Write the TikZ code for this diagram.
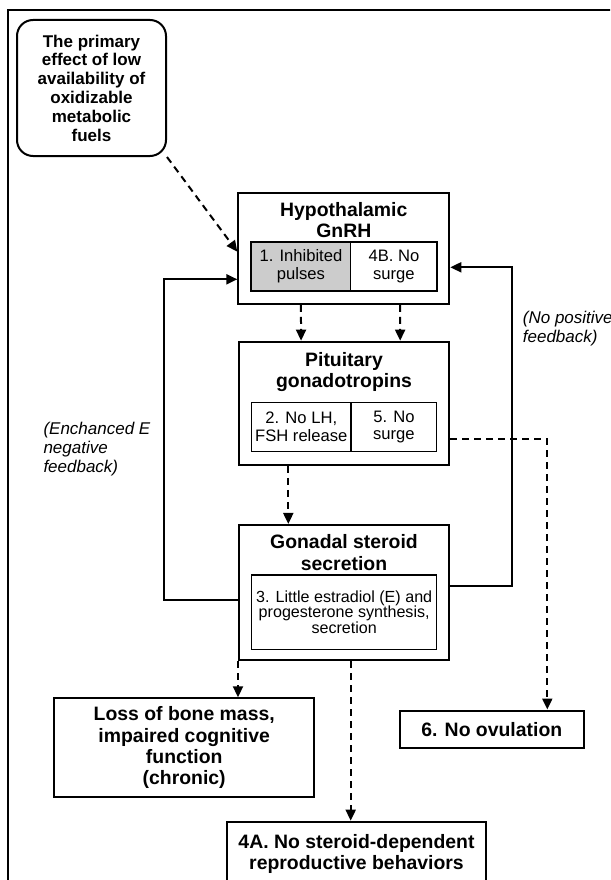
\documentclass[tikz,border=0pt]{standalone}
\usepackage{fontspec}
\setmainfont{Liberation Sans}
\usetikzlibrary{arrows.meta}

\begin{document}
\begin{tikzpicture}[x=1pt, y=-1pt,
		box/.style={draw, line width=2pt, inner sep=0pt},
		cell/.style={draw, line width=1.4pt, inner sep=0pt, align=center, font=\fontsize{16.6}{17.6}\selectfont},
		title/.style={align=center, font=\fontsize{19.4}{21.4}\selectfont\bfseries},
		note/.style={inner sep=0pt, anchor=west, align=left, font=\fontsize{17}{18.8}\selectfont\itshape},
		dasharrow/.style={->, >={Triangle[width=10pt,length=11pt]}, line width=2pt, dash pattern=on 7pt off 5pt},
		fbarrow/.style={->, >={Triangle[width=10pt,length=11pt]}, line width=2pt}]
		\useasboundingbox (0,0) rectangle (610,880);
		\clip (0,0) rectangle (610,880);
		\draw[line width=2pt] (8.3,10) rectangle (640,900);
		% boxes
		\draw (91.5,88) node[box, rounded corners=16pt, minimum width=149pt, minimum height=136pt, align=center, font=\fontsize{17}{18.8}\selectfont\bfseries] (F) {The primary\\effect of low\\availability of\\oxidizable\\metabolic\\fuels};
		\draw (343.8,248.3) node[box, minimum width=211pt, minimum height=111.3pt] (H) {};
		\draw (343.8,220) node[title] (HT) {Hypothalamic\\GnRH};
		\draw (300.9,266.5) node[cell, fill=black!20, minimum width=99.7pt, minimum height=49pt] (H1) {1. Inhibited\\pulses};
		\draw (393.9,266.5) node[cell, minimum width=86.3pt, minimum height=49pt] (H4B) {4B. No\\surge};
		\draw (344,403.3) node[box, minimum width=210pt, minimum height=123.3pt] (P) {};
		\draw (344,372) node[title] (PT) {Pituitary\\gonadotropins};
		\draw (301.3,427) node[cell, minimum width=99.3pt, minimum height=49.4pt] (P2) {2. No LH,\\FSH release};
		\draw (393.9,427) node[cell, minimum width=85.7pt, minimum height=49.4pt] (P5) {5. No\\surge};
		\draw (344,592.7) node[box, minimum width=210pt, minimum height=135.5pt] (G) {};
		\draw (344,552.6) node[title] (GT) {Gonadal steroid\\secretion};
		\draw (344.2,612.2) node[cell, minimum width=185pt, minimum height=74.3pt, font=\fontsize{16.1}{15.7}\selectfont] (G3) {3. Little estradiol (E) and\\progesterone synthesis,\\secretion};
		\draw (184.2,747.8) node[box, title, minimum width=259.7pt, minimum height=99pt] (L) {Loss of bone mass,\\impaired cognitive\\function\\(chronic)};
		\draw (491.8,729.4) node[box, title, minimum width=184.5pt, minimum height=37.8pt] (O) {6. No ovulation};
		\draw (356.5,853.7) node[box, title, minimum width=259pt, minimum height=64pt] (R) {4A. No steroid-dependent\\reproductive behaviors};
		% feedback labels
		\draw (43.3,449.3) node[note] (NE) {(Enchanced E\\negative\\feedback)};
		\draw (522.7,328.8) node[note] (NP) {(No positive\\feedback)};
		% connectors
		\draw[dasharrow] (F.south east) -- ([yshift=-3.4pt]H.west);
		\draw[dasharrow] ([xshift=-42.9pt]H.south) -- ([xshift=-42.9pt]P.north);
		\draw[dasharrow] ([xshift=56.2pt]H.south) -- ([xshift=56.2pt]P.north);
		\draw[dasharrow] ([xshift=-55.7pt]P.south) -- ([xshift=-55.7pt]G.north);
		\draw[dasharrow] (G.south west) -- (G.south west |- L.north);
		\draw[dasharrow] ([xshift=6.7pt]G.south) -- ([xshift=-5.8pt]R.north);
		\draw[fbarrow] ([yshift=-7.3pt]G.west) -- ++(-74,0) |- ([yshift=-31pt]H.west);
		\draw[fbarrow] ([yshift=6.7pt]G.east) -- ++(62,0) |- ([yshift=-19pt]H.east);
		\draw[dasharrow] ([yshift=-36pt]P.east) -| ([xshift=55.5pt]O.north);
	\end{tikzpicture}
\end{document}
